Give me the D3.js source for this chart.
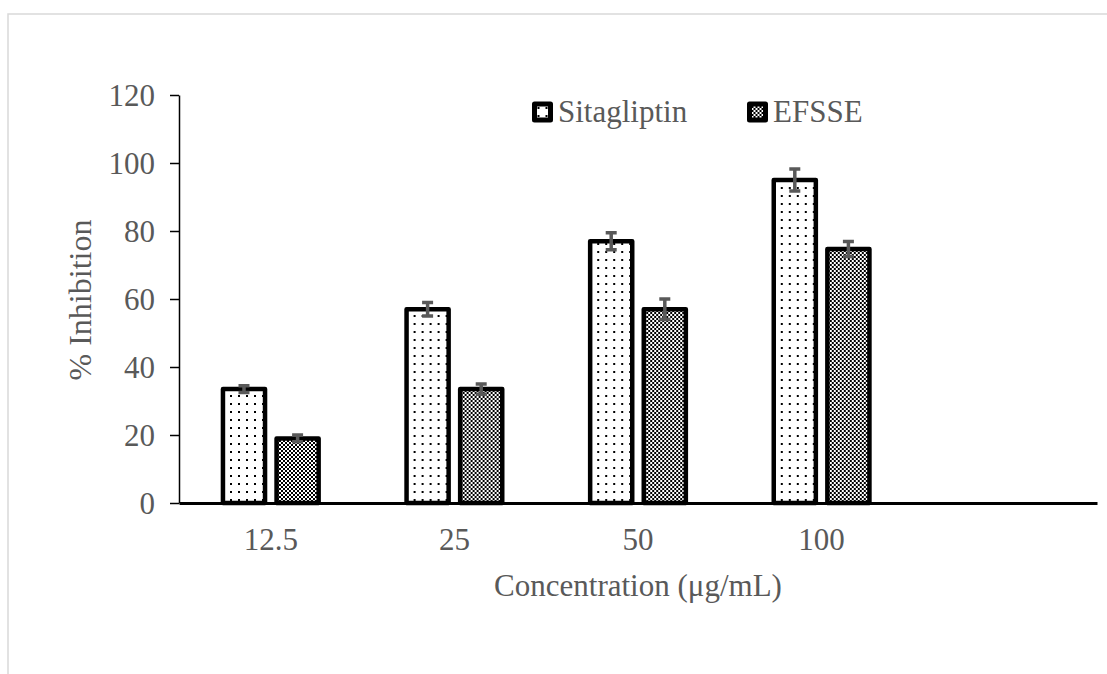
<!DOCTYPE html>
<html>
<head>
<meta charset="utf-8">
<title>% Inhibition</title>
<style>
	body { margin: 0; background: #fff; }
	text { font-family: 'Liberation Serif', 'Times New Roman', serif; fill: #595959; }
	.axis__y path.domain, .axis__y .tick line { stroke: #000; stroke-width: 1.5px; }
	.axis__x path.domain { stroke: #000; stroke-width: 3px; }
	.axis__x .tick line { display: none; }
</style>
</head>
<body>
<div id="chart"></div>
<script src="https://cdn.jsdelivr.net/npm/d3@7"></script>
<script>
	'use strict';

	// данные
	const categories = ['12.5', '25', '50', '100', ''];
	const seriesNames = ['Sitagliptin', 'EFSSE'];
	const sitagliptin = [33.5, 57, 77, 95];
	const efsse = [19, 33.5, 57, 74.7];
	const sitagliptinErr = [1, 2, 2.5, 3.2];
	const efsseErr = [1, 1.5, 3, 2.2];
	const yTicks = [0, 20, 40, 60, 80, 100, 120];

	const W = 1107, H = 674;
	const FONT = 31;

	const rows = categories.slice(0, 4).map((c, i) => ({
		cat: c,
		values: [
			{name: seriesNames[0], value: sitagliptin[i], err: sitagliptinErr[i]},
			{name: seriesNames[1], value: efsse[i], err: efsseErr[i]}
		]
	}));

	const svg = d3.select('#chart').append('svg')
		.attr('width', W)
		.attr('height', H);

	// узоры заливки
	const defs = svg.append('defs');
	const dots = defs.append('pattern')
		.attr('id', 'pat-dots')
		.attr('patternUnits', 'userSpaceOnUse')
		.attr('width', 8).attr('height', 8);
	dots.append('rect').attr('width', 8).attr('height', 8).attr('fill', '#fff');
	dots.append('rect').attr('x', 3).attr('y', 3).attr('width', 2).attr('height', 2).attr('fill', '#000');

	const checks = defs.append('pattern')
		.attr('id', 'pat-checks')
		.attr('patternUnits', 'userSpaceOnUse')
		.attr('width', 4).attr('height', 4);
	checks.append('rect').attr('width', 4).attr('height', 4).attr('fill', '#fff');
	checks.append('rect').attr('width', 2).attr('height', 2).attr('fill', '#000');
	checks.append('rect').attr('x', 2).attr('y', 2).attr('width', 2).attr('height', 2).attr('fill', '#000');

	const fillFor = {Sitagliptin: 'url(#pat-dots)', EFSSE: 'url(#pat-checks)'};

	// рамка
	svg.append('rect')
		.attr('x', 8).attr('y', 14)
		.attr('width', 1300).attr('height', 900)
		.attr('fill', 'none')
		.attr('stroke', '#d9d9d9')
		.attr('stroke-width', 1.5);

	const x0 = d3.scaleBand().domain(categories).range([179, 1097]);
	const x1 = d3.scaleBand().domain(seriesNames)
		.range([0, x0.bandwidth()])
		.paddingInner(0.215)
		.paddingOuter(0.82);
	const y = d3.scaleLinear().domain([0, 120]).range([503, 95]);

	// ось Y
	const yAxis = svg.append('g')
		.attr('class', 'axis axis__y')
		.attr('transform', 'translate(179,0)')
		.call(d3.axisLeft(y).tickValues(yTicks).tickSize(9).tickSizeOuter(0));
	yAxis.selectAll('.tick text')
		.attr('x', -24)
		.attr('dy', '0.34em')
		.style('font-size', FONT + 'px')
		.attr('fill', null);
	yAxis.attr('font-family', null).attr('font-size', null);

	// столбцы
	const groups = svg.selectAll('.group')
		.data(rows)
		.enter().append('g')
		.attr('class', 'group')
		.attr('transform', d => 'translate(' + x0(d.cat) + ',0)');

	groups.selectAll('rect')
		.data(d => d.values)
		.enter().append('rect')
		.attr('x', d => x1(d.name))
		.attr('width', x1.bandwidth())
		.attr('y', d => y(d.value))
		.attr('height', d => y(0) - y(d.value))
		.attr('fill', d => fillFor[d.name])
		.attr('stroke', '#000')
		.attr('stroke-width', 4.5)
		.attr('stroke-linejoin', 'round');

	// планки погрешностей
	const cap = 5.5;
	groups.selectAll('path.err')
		.data(d => d.values)
		.enter().append('path')
		.attr('class', 'err')
		.attr('fill', 'none')
		.attr('stroke', '#595959')
		.attr('stroke-width', 3.5)
		.attr('d', d => {
			const cx = x1(d.name) + x1.bandwidth() / 2;
			const top = y(d.value + d.err), bot = y(d.value - d.err);
			return 'M' + (cx - cap) + ',' + top + 'H' + (cx + cap) +
				'M' + cx + ',' + top + 'V' + bot +
				'M' + (cx - cap) + ',' + bot + 'H' + (cx + cap);
		});

	// ось X
	const xAxis = svg.append('g')
		.attr('class', 'axis axis__x')
		.attr('transform', 'translate(0,503)')
		.call(d3.axisBottom(x0).tickSize(0).tickSizeOuter(0));
	xAxis.selectAll('.tick text')
		.attr('y', 47)
		.attr('dy', 0)
		.style('font-size', FONT + 'px')
		.attr('fill', null);
	xAxis.attr('font-family', null).attr('font-size', null);

	// подписи осей
	svg.append('text')
		.attr('x', 638).attr('y', 596)
		.attr('text-anchor', 'middle')
		.style('font-size', FONT + 'px')
		.text('Concentration (μg/mL)');

	svg.append('text')
		.attr('transform', 'translate(91,300) rotate(-90)')
		.attr('text-anchor', 'middle')
		.style('font-size', '32px')
		.text('% Inhibition');

	// легенда
	const legendX = [534.5, 749.5];
	const legend = svg.selectAll('.legend')
		.data(seriesNames)
		.enter().append('g')
		.attr('class', 'legend')
		.attr('transform', (d, i) => 'translate(' + legendX[i] + ',104)');
	legend.append('rect')
		.attr('width', 16).attr('height', 16)
		.attr('fill', d => fillFor[d])
		.attr('stroke', '#000')
		.attr('stroke-width', 5)
		.attr('stroke-linejoin', 'round');
	legend.append('text')
		.attr('x', 23.5).attr('y', 18)
		.style('font-size', FONT + 'px')
		.text(d => d);
</script>
</body>
</html>
